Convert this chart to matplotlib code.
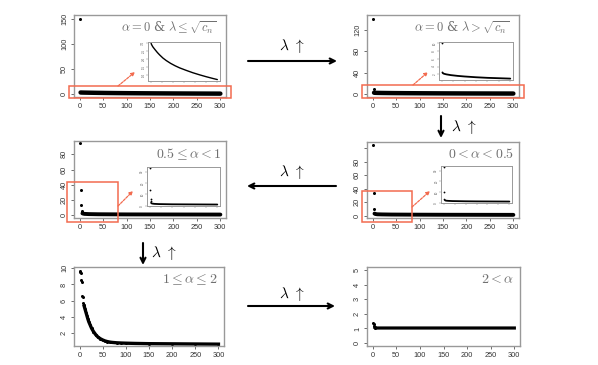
import matplotlib
matplotlib.use("Agg")
import matplotlib.pyplot as plt
from matplotlib.patches import Rectangle

plt.rcParams["font.family"] = ["Liberation Sans", "DejaVu Sans"]
plt.rcParams["mathtext.fontset"] = "cm"

# ---- data ----
x_ticks = [0, 50, 100, 150, 200, 250, 300]

# alpha = 0 & lambda <= sqrt(c_n)
a_spike_x = [1]
a_spike_y = [150]
a_tail_x = [2, 4, 7, 10, 15, 20, 30, 40, 55, 70, 90, 110, 130, 160, 190, 220, 250, 280, 300]
a_tail_y = [3.0, 2.93, 2.85, 2.78, 2.69, 2.6, 2.43, 2.28, 2.08, 1.92, 1.74, 1.59, 1.46,
            1.3, 1.15, 1.02, 0.9, 0.79, 0.72]

# alpha = 0 & lambda > sqrt(c_n)
b_spike_x = [1, 2]
b_spike_y = [140, 10]
b_tail_x = [3, 5, 10, 20, 40, 70, 100, 150, 200, 250, 300]
b_tail_y = [2.5, 2.3, 2.15, 2.0, 1.8, 1.6, 1.45, 1.25, 1.1, 1.0, 0.9]

# 0.5 <= alpha < 1
c_spike_x = [1, 2, 3, 4, 5]
c_spike_y = [95, 33, 14, 6, 4]
c_tail_x = [6, 10, 20, 40, 70, 100, 150, 200, 250, 300]
c_tail_y = [2.6, 2.0, 1.7, 1.5, 1.4, 1.3, 1.25, 1.2, 1.15, 1.1]

# 0 < alpha < 0.5
d_spike_x = [1, 2, 3]
d_spike_y = [104, 33, 10]
d_tail_x = [4, 6, 10, 20, 40, 70, 100, 150, 200, 250, 300]
d_tail_y = [3.0, 2.4, 2.0, 1.8, 1.6, 1.5, 1.4, 1.3, 1.25, 1.2, 1.15]

# 1 <= alpha <= 2
e_x = [1, 2, 3, 4, 5, 6, 7, 8, 9, 10, 12, 14, 16, 18, 20, 23, 26, 30, 35, 40, 45, 50,
       55, 60, 65, 70, 80, 90, 100, 120, 150, 200, 250, 300]
e_y = [9.7, 9.5, 9.4, 8.5, 8.3, 6.6, 6.4, 5.7, 5.5, 5.3, 4.9, 4.5, 4.1, 3.7, 3.35, 2.95,
       2.55, 2.15, 1.75, 1.45, 1.25, 1.1, 0.98, 0.9, 0.84, 0.8, 0.75, 0.72, 0.7, 0.67,
       0.64, 0.62, 0.6, 0.58]

# 2 < alpha
f_x = [1, 2, 3, 4, 5, 6, 10, 50, 100, 150, 200, 250, 300]
f_y = [1.4, 1.3, 1.2, 1.1, 1.05, 1.03, 1.03, 1.03, 1.03, 1.03, 1.03, 1.03, 1.03]

labels = [r"$\alpha = 0$ & $\lambda \leq \sqrt{c_n}$",
          r"$\alpha = 0$ & $\lambda > \sqrt{c_n}$",
          r"$0.5 \leq \alpha < 1$",
          r"$0 < \alpha < 0.5$",
          r"$1 \leq \alpha \leq 2$",
          r"$2 < \alpha$"]

W, H = 598, 365
RED = "#f26b4f"


def box(l, t, r, b):
    return [l / W, 1 - b / H, (r - l) / W, (b - t) / H]


def fp(x, y):
    return (x / W, 1 - y / H)


def style(ax, ylim, yticks, ylabels=None, inset=False):
    ax.set_xlim(-12, 312)
    ax.set_ylim(*ylim)
    ax.set_xticks(x_ticks)
    ax.set_yticks(yticks)
    if ylabels is not None:
        ax.set_yticklabels(ylabels)
    for s in ax.spines.values():
        s.set_color("#999999")
        s.set_linewidth(0.7 if inset else 1.0)
    if inset:
        ax.tick_params(length=1.3, width=0.3, color="#777", labelsize=2.2,
                       labelcolor="#555", pad=0.6)
        ax.set_xticklabels([])
    else:
        ax.tick_params(length=2.5, width=0.6, color="#555", labelsize=5.3,
                       labelcolor="#333", pad=1.8)
    ax.tick_params(axis="y", labelrotation=90)
    for lab in ax.get_yticklabels():
        lab.set_va("center")


def draw(ax, sx, sy, tx, ty, lw=2.8, ms=2.2, xmin=0):
    px = [x for x in sx if x >= xmin]
    py = [y for x, y in zip(sx, sy) if x >= xmin]
    ax.plot(px, py, "o", color="k", ms=ms, mew=0)
    ax.plot(tx, ty, "-", color="k", lw=lw, solid_capstyle="round")


fig = plt.figure(figsize=(W / 100, H / 100), dpi=100)

# main panels
axA = fig.add_axes(box(74, 15, 226, 97))
axB = fig.add_axes(box(367, 15, 519, 97))
axC = fig.add_axes(box(74, 141, 226, 218))
axD = fig.add_axes(box(367, 142, 519, 218))
axE = fig.add_axes(box(74, 267, 224, 346))
axF = fig.add_axes(box(367, 267, 520, 346))

draw(axA, a_spike_x, a_spike_y, a_tail_x, a_tail_y, lw=3.2)
style(axA, (-6, 158), [0, 50, 100, 150])
draw(axB, b_spike_x, b_spike_y, b_tail_x, b_tail_y, lw=3.2)
style(axB, (-5.5, 147), [0, 40, 80, 120])
draw(axC, c_spike_x, c_spike_y, c_tail_x, c_tail_y, lw=2.8)
style(axC, (-3.4, 97.5), [0, 20, 40, 60, 80])
draw(axD, d_spike_x, d_spike_y, d_tail_x, d_tail_y, lw=2.8)
style(axD, (-3.5, 109), [0, 20, 40, 60, 80, 100], ["0", "20", "40", "60", "80", ""])
axE.plot(e_x, e_y, "o", color="k", ms=2.2, mew=0)
axE.plot(e_x[9:], e_y[9:], "-", color="k", lw=2.4)
style(axE, (0.35, 10.17), [2, 4, 6, 8, 10])
axF.plot(f_x[:5], f_y[:5], "o", color="k", ms=2.2, mew=0)
axF.plot(f_x[4:], f_y[4:], "-", color="k", lw=2.3)
style(axF, (-0.2, 5.2), [0, 1, 2, 3, 4, 5])

label_x = [0.94, 0.94, 0.97, 0.97, 0.96, 0.96]
label_size = [9, 9, 10, 10, 10, 10]
for ax, lab, lx, fs in zip([axA, axB, axC, axD, axE, axF], labels, label_x, label_size):
    ax.text(lx, 0.94, lab, transform=ax.transAxes, ha="right", va="top",
            fontsize=fs, color="#707070", family=["DejaVu Serif"])

# insets
inA = fig.add_axes(box(148, 42, 220, 81))
draw(inA, [], [], a_tail_x, a_tail_y, lw=1.0)
style(inA, (0.63, 3.09), [1.0, 1.5, 2.0, 2.5, 3.0], inset=True)
inB = fig.add_axes(box(439, 42, 513, 80))
draw(inB, b_spike_x, b_spike_y, b_tail_x, b_tail_y, lw=1.3, ms=1.3, xmin=2)
style(inB, (0.54, 10.36), [2, 4, 6, 8, 10], inset=True)
inC = fig.add_axes(box(147, 167, 220, 206))
draw(inC, c_spike_x, c_spike_y, c_tail_x, c_tail_y, lw=1.3, ms=1.3, xmin=2)
style(inC, (-0.2, 34.3), [0, 10, 20, 30], inset=True)
inD = fig.add_axes(box(441, 166, 512, 203))
draw(inD, d_spike_x, d_spike_y, d_tail_x, d_tail_y, lw=1.3, ms=1.3, xmin=2)
style(inD, (-0.2, 34.3), [0, 10, 20, 30], inset=True)

# red zoom boxes
zooms = [(axA, -0.033, -0.012, 1.066, 0.146),
         (axB, -0.033, -0.012, 1.066, 0.158),
         (axC, -0.046, -0.052, 0.336, 0.52),
         (axD, -0.033, -0.052, 0.329, 0.407)]
for ax, x0, y0, w, h in zooms:
    ax.add_patch(Rectangle((x0, y0), w, h, transform=ax.transAxes, fill=False,
                           edgecolor=RED, lw=1.1, clip_on=False, zorder=5))

red_arrows = [((118, 86), (135, 72)), ((413, 85), (428, 72)),
              ((118, 206), (133, 191)), ((412, 207), (430, 191))]
for (x0, y0), (x1, y1) in red_arrows:
    fig.add_artist(plt.Annotation("", xy=fp(x1, y1), xytext=fp(x0, y0),
                                  xycoords="figure fraction", textcoords="figure fraction",
                                  arrowprops=dict(arrowstyle="-|>", color=RED, lw=0.9,
                                                  linestyle=(0, (2, 1)), mutation_scale=5,
                                                  shrinkA=0, shrinkB=0)))

# black lambda arrows
black_arrows = [((248, 61), (337, 61), (292, 46)),
                ((336, 186), (247, 186), (292, 172)),
                ((248, 306), (335, 306), (292, 294)),
                ((441, 116), (441, 138), (464, 127)),
                ((143, 243), (143, 265), (164, 253))]
for (x0, y0), (x1, y1), (lx, ly) in black_arrows:
    fig.add_artist(plt.Annotation("", xy=fp(x1, y1), xytext=fp(x0, y0),
                                  xycoords="figure fraction", textcoords="figure fraction",
                                  arrowprops=dict(arrowstyle="->", color="k", lw=1.5,
                                                  mutation_scale=9, shrinkA=0, shrinkB=0)))
    fig.text(*fp(lx, ly), r"$\lambda\ \uparrow$", ha="center", va="center", fontsize=11)

fig.savefig("out.png", dpi=100)
